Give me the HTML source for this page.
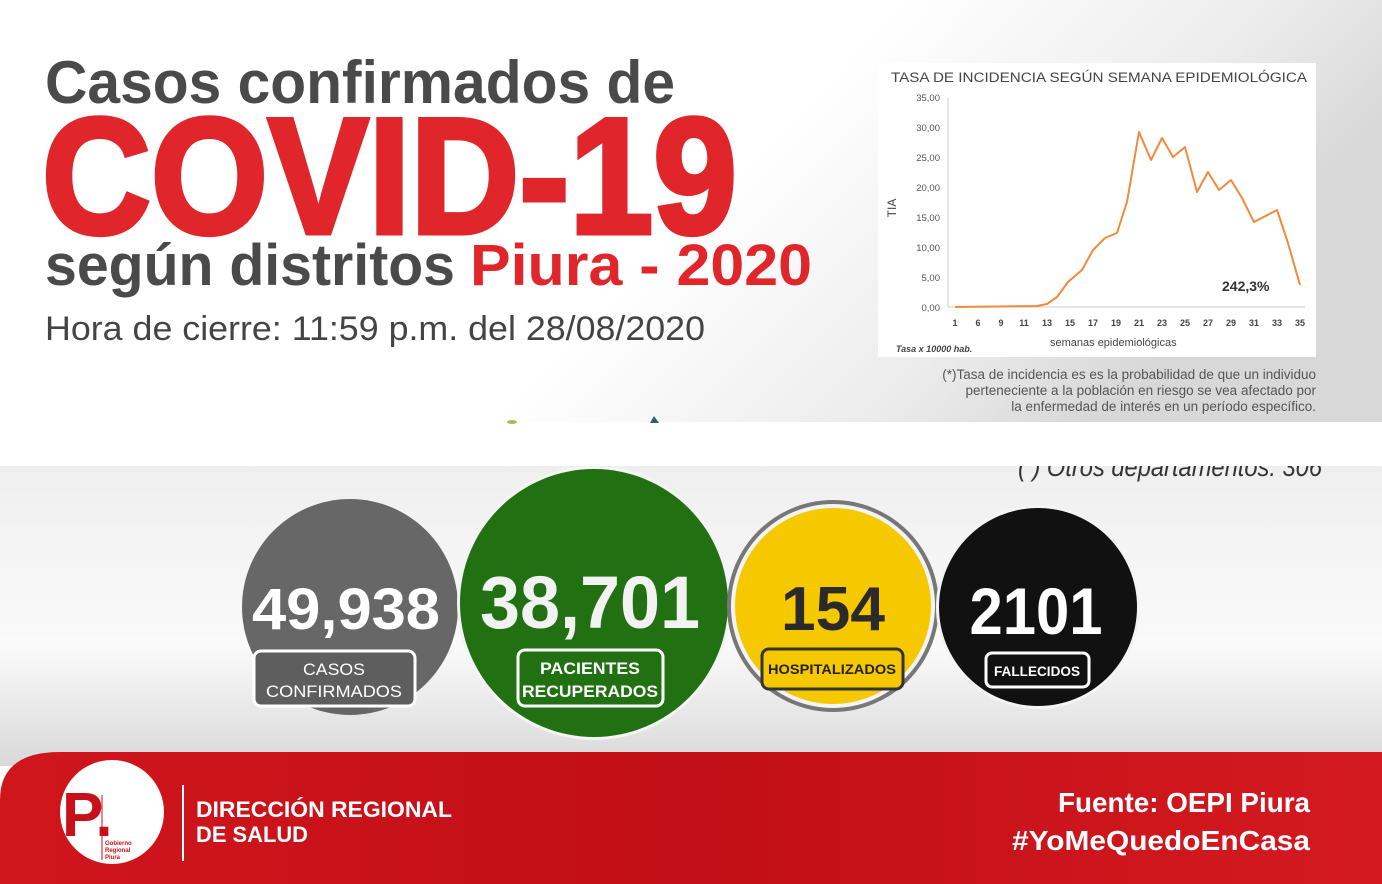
<!DOCTYPE html>
<html><head><meta charset="utf-8"><style>
html,body{margin:0;padding:0;background:#fff;width:1382px;height:884px;overflow:hidden}
svg{display:block;font-family:"Liberation Sans",sans-serif}
</style></head><body>
<svg width="1382" height="884" viewBox="0 0 1382 884" xmlns="http://www.w3.org/2000/svg">
<defs>
<linearGradient id="tg" x1="0" y1="0" x2="1" y2="0.3">
<stop offset="0" stop-color="#fff"/><stop offset="0.6" stop-color="#fff"/><stop offset="0.85" stop-color="#ececec"/><stop offset="1" stop-color="#d8d8d8"/>
</linearGradient>
<linearGradient id="bg2" x1="0" y1="0" x2="0" y2="1">
<stop offset="0" stop-color="#efefef"/><stop offset="0.6" stop-color="#fafafa"/><stop offset="1" stop-color="#d9d9d9"/>
</linearGradient>
<linearGradient id="red" x1="0" y1="0" x2="1" y2="0">
<stop offset="0" stop-color="#d0161d"/><stop offset="0.5" stop-color="#c20e16"/><stop offset="1" stop-color="#d41a20"/>
</linearGradient>
</defs>
<rect x="0" y="0" width="1382" height="422" fill="url(#tg)"/>
<rect x="0" y="466" width="1382" height="300" fill="url(#bg2)"/>
<text x="1018" y="476" font-size="27" font-style="italic" fill="#333" textLength="304" lengthAdjust="spacingAndGlyphs">( ) Otros departamentos: 306</text>
<rect x="0" y="422" width="1382" height="44" fill="#fff"/>
<path d="M0,884 L0,800 Q0,752 60,752 L1382,752 L1382,884 Z" fill="url(#red)"/>

<!-- titles -->
<text x="45" y="103" font-size="60" font-weight="bold" fill="#4a4a4a" textLength="630" lengthAdjust="spacingAndGlyphs">Casos confirmados de</text>
<text x="42" y="233" font-size="165" font-weight="900" fill="#e0262a" textLength="695" lengthAdjust="spacingAndGlyphs" stroke="#e0262a" stroke-width="5">COVID-19</text>
<text x="45" y="285" font-size="58" font-weight="bold" fill="#4a4a4a" textLength="410" lengthAdjust="spacingAndGlyphs">según distritos</text>
<text x="470" y="285" font-size="58" font-weight="bold" fill="#e0262a" textLength="342" lengthAdjust="spacingAndGlyphs">Piura - 2020</text>
<text x="45" y="340" font-size="34" fill="#444" textLength="660" lengthAdjust="spacingAndGlyphs">Hora de cierre: 11:59 p.m. del 28/08/2020</text>

<!-- chart panel -->
<rect x="878" y="63" width="438" height="294" fill="#fff"/>
<text x="891" y="82" font-size="13.5" fill="#444" textLength="416" lengthAdjust="spacingAndGlyphs">TASA DE INCIDENCIA SEGÚN SEMANA EPIDEMIOLÓGICA</text>
<g font-size="9.5" fill="#555" text-anchor="end">
<text x="940" y="101">35,00</text><text x="940" y="131">30,00</text><text x="940" y="161">25,00</text>
<text x="940" y="191">20,00</text><text x="940" y="221">15,00</text><text x="940" y="251">10,00</text>
<text x="940" y="281">5,00</text><text x="940" y="311">0,00</text>
</g>
<line x1="948" y1="98" x2="948" y2="307" stroke="#ccc"/>
<line x1="948" y1="307" x2="1305" y2="307" stroke="#ccc"/>
<text x="896" y="208" font-size="12" fill="#444" transform="rotate(-90 896 208)" text-anchor="middle">TIA</text>
<g font-size="9" fill="#444" text-anchor="middle" font-weight="bold">
<text x="955" y="326">1</text><text x="978" y="326">6</text><text x="1001" y="326">9</text><text x="1024" y="326">11</text>
<text x="1047" y="326">13</text><text x="1070" y="326">15</text><text x="1093" y="326">17</text><text x="1116" y="326">19</text>
<text x="1139" y="326">21</text><text x="1162" y="326">23</text><text x="1185" y="326">25</text><text x="1208" y="326">27</text>
<text x="1231" y="326">29</text><text x="1254" y="326">31</text><text x="1277" y="326">33</text><text x="1300" y="326">35</text>
</g>
<text x="1050" y="346" font-size="11" fill="#444">semanas epidemiológicas</text>
<text x="896" y="352" font-size="9" font-style="italic" font-weight="bold" fill="#444">Tasa x 10000 hab.</text>
<text x="1222" y="291" font-size="14" font-weight="bold" fill="#333">242,3%</text>
<polyline fill="none" stroke="#f08a3c" stroke-width="2" stroke-linejoin="round" points="955,307 1037,306 1047,304 1057,297 1068,282 1082,270 1093,250 1105,238 1117,233 1127,202 1139,132 1151,160 1162,138 1173,157 1185,147 1197,192 1208,172 1219,190 1231,180 1242,198 1254,222 1277,210 1288,243 1300,285"/>
<g font-size="13.5" fill="#555" text-anchor="end">
<text x="1316" y="379">(*)Tasa de incidencia es es la probabilidad de que un individuo</text>
<text x="1316" y="395">perteneciente a la población en riesgo se vea afectado por</text>
<text x="1316" y="411">la enfermedad de interés en un período específico.</text>
</g>
<ellipse cx="512" cy="422" rx="5" ry="2" fill="#b5b84a"/>
<path d="M650,423 L654,416 L659,423 Z" fill="#2e5c7a"/>

<!-- circles -->
<circle cx="350" cy="607" r="108" fill="#676767"/>
<circle cx="594" cy="603" r="137" fill="#f4f4f4"/>
<circle cx="594" cy="603" r="134" fill="#217012"/>
<circle cx="833" cy="606" r="106" fill="#777"/>
<circle cx="833" cy="606" r="102" fill="#f4f4f4"/>
<circle cx="833" cy="606" r="98" fill="#f6c800"/>
<circle cx="1038" cy="607" r="102" fill="#f4f4f4"/>
<circle cx="1038" cy="607" r="99" fill="#111"/>

<g font-weight="bold" text-anchor="middle">
<text x="346" y="629" font-size="58" fill="#fff" textLength="188" lengthAdjust="spacingAndGlyphs">49,938</text>
<text x="590" y="628" font-size="74" fill="#f2f2f2" textLength="220" lengthAdjust="spacingAndGlyphs">38,701</text>
<text x="833" y="630" font-size="62" fill="#2a2a2a" textLength="104" lengthAdjust="spacingAndGlyphs">154</text>
<text x="1036" y="634" font-size="66" fill="#fff" textLength="133" lengthAdjust="spacingAndGlyphs">2101</text>
</g>
<rect x="254" y="651" width="161" height="55" rx="7" fill="#5e5e5e" stroke="#fff" stroke-width="3"/>
<rect x="518" y="650" width="145" height="56" rx="7" fill="#217012" stroke="#fff" stroke-width="3"/>
<rect x="762" y="649" width="141" height="40" rx="7" fill="#f6c800" stroke="#333" stroke-width="3"/>
<rect x="986" y="653" width="103" height="34" rx="6" fill="#111" stroke="#fff" stroke-width="3"/>
<g text-anchor="middle" fill="#fff">
<text x="334" y="675" font-size="17" textLength="62" lengthAdjust="spacingAndGlyphs">CASOS</text>
<text x="334" y="697" font-size="17" textLength="136" lengthAdjust="spacingAndGlyphs">CONFIRMADOS</text>
<text x="590" y="674" font-size="17" font-weight="bold" textLength="100" lengthAdjust="spacingAndGlyphs">PACIENTES</text>
<text x="590" y="697" font-size="17" font-weight="bold" textLength="136" lengthAdjust="spacingAndGlyphs">RECUPERADOS</text>
<text x="832" y="674" font-size="14" font-weight="bold" fill="#222" textLength="128" lengthAdjust="spacingAndGlyphs">HOSPITALIZADOS</text>
<text x="1037" y="676" font-size="14" font-weight="bold" textLength="86" lengthAdjust="spacingAndGlyphs">FALLECIDOS</text>
</g>

<!-- footer -->
<circle cx="112" cy="812" r="52" fill="#fff"/>
<text x="62" y="836" font-size="62" font-weight="bold" fill="#c8101a">P.</text>
<line x1="102" y1="795" x2="102" y2="860" stroke="#c8101a" stroke-width="1"/>
<g font-size="6" fill="#c8101a" font-weight="bold"><text x="105" y="845">Gobierno</text><text x="105" y="852">Regional</text><text x="105" y="859">Piura</text></g>
<line x1="183" y1="785" x2="183" y2="861" stroke="#fff" stroke-width="2"/>
<text x="196" y="817" font-size="22" font-weight="bold" fill="#fff" textLength="256" lengthAdjust="spacingAndGlyphs">DIRECCIÓN REGIONAL</text>
<text x="196" y="842" font-size="22" font-weight="bold" fill="#fff" textLength="112" lengthAdjust="spacingAndGlyphs">DE SALUD</text>
<text x="1310" y="812" font-size="28" font-weight="bold" fill="#fff" text-anchor="end" textLength="252" lengthAdjust="spacingAndGlyphs">Fuente: OEPI Piura</text>
<text x="1310" y="850" font-size="28" font-weight="bold" fill="#fff" text-anchor="end" textLength="298" lengthAdjust="spacingAndGlyphs">#YoMeQuedoEnCasa</text>
</svg>
</body></html>
